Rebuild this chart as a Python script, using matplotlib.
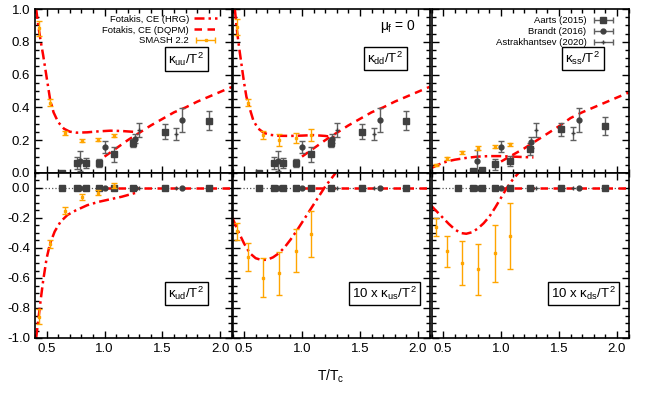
import numpy as np
import matplotlib
matplotlib.use("Agg")
from matplotlib import pyplot as plt
from matplotlib.lines import Line2D
from matplotlib.ticker import MultipleLocator, FormatStrFormatter
from matplotlib.container import ErrorbarContainer
from matplotlib.legend_handler import HandlerErrorbar

plt.rcParams['font.family'] = ['Liberation Sans', 'DejaVu Sans']
plt.rcParams['mathtext.fontset'] = 'custom'
plt.rcParams['mathtext.rm'] = 'Liberation Sans'
plt.rcParams['mathtext.it'] = 'Liberation Sans'
plt.rcParams['mathtext.bf'] = 'Liberation Sans:bold'
plt.rcParams['axes.unicode_minus'] = False

#%% data (T/Tc on x)
# SMASH 2.2
T_smash = [0.435, 0.53, 0.66, 0.805, 0.945, 1.08]
uu_smash = [0.882, 0.429, 0.246, 0.197, 0.203, 0.228]
uu_smash_err = [0.046, 0.02, 0.012, 0.01, 0.01, 0.01]
dd_smash = [0.89, 0.429, 0.232, 0.201, 0.215, 0.232]
dd_smash_err = [0.05, 0.02, 0.024, 0.034, 0.03, 0.035]
ss_smash = [0.049, 0.09, 0.126, 0.152, 0.16, 0.175]
ss_smash_err = [0.008, 0.008, 0.008, 0.01, 0.01, 0.01]
ud_smash = [-0.858, -0.373, -0.151, -0.058, -0.031, 0.016]
ud_smash_err = [0.05, 0.027, 0.022, 0.02, 0.017, 0.017]
us_smash = [-0.289, -0.458, -0.597, -0.57, -0.419, -0.304]   # x10
us_smash_err = [0.058, 0.093, 0.128, 0.146, 0.143, 0.153]
ds_smash = [-0.258, -0.422, -0.499, -0.543, -0.436, -0.318]  # x10
ds_smash_err = [0.06, 0.104, 0.148, 0.172, 0.189, 0.22]

# lattice
T_aarts = [0.63, 0.76, 0.84, 0.95, 1.08, 1.25, 1.52, 1.90]
light_aarts = [0.0, 0.063, 0.059, 0.061, 0.114, 0.185, 0.252, 0.319]
light_aarts_err = [0.0, 0.036, 0.03, 0.022, 0.046, 0.025, 0.046, 0.058]
ss_aarts = [np.nan, 0.012, 0.018, 0.053, 0.075, 0.146, 0.266, 0.289]
ss_aarts_err = [0.0, 0.008, 0.008, 0.035, 0.03, 0.035, 0.04, 0.055]
off_aarts = [0, 0, 0, 0, 0, 0, 0, 0]

T_brandt = [0.79, 1.0, 1.26, 1.67]
light_brandt = [0.073, 0.16, 0.21, 0.323]
light_brandt_err = [0.061, 0.036, 0.03, 0.076]
ss_brandt = [0.073, 0.16, 0.187, 0.323]
ss_brandt_err = [0.065, 0.035, 0.035, 0.075]
off_brandt = [0, 0, 0, 0]

T_astra = [1.30, 1.62]
light_astra = [0.262, 0.236]
light_astra_err = [0.04, 0.037]
ss_astra = [0.262, 0.242]
ss_astra_err = [0.045, 0.04]
off_astra = [0, 0]

# Fotakis CE (HRG)
T_hrg_uu = [0.41, 0.43, 0.45, 0.47, 0.49, 0.51, 0.53, 0.56, 0.60, 0.65, 0.70, 0.76, 0.85, 0.95, 1.05, 1.15, 1.27]
hrg_uu = [1.00, 0.89, 0.80, 0.72, 0.63, 0.54, 0.45, 0.37, 0.31, 0.27, 0.252, 0.246, 0.248, 0.254, 0.258, 0.256, 0.25]
T_hrg_dd = [0.42, 0.44, 0.46, 0.48, 0.50, 0.52, 0.55, 0.58, 0.62, 0.67, 0.72, 0.80, 0.90, 1.00, 1.10, 1.20, 1.28]
hrg_dd = [1.00, 0.86, 0.75, 0.65, 0.55, 0.465, 0.39, 0.32, 0.272, 0.245, 0.233, 0.227, 0.226, 0.228, 0.231, 0.226, 0.218]
T_hrg_ss = [0.40, 0.45, 0.50, 0.55, 0.60, 0.70, 0.80, 0.90, 1.00, 1.10, 1.20, 1.28]
hrg_ss = [0.03, 0.048, 0.063, 0.073, 0.081, 0.092, 0.100, 0.103, 0.103, 0.100, 0.097, 0.095]
T_hrg_ud = [0.41, 0.43, 0.45, 0.47, 0.50, 0.53, 0.57, 0.62, 0.68, 0.75, 0.85, 0.95, 1.05, 1.15, 1.27]
hrg_ud = [-1.0, -0.87, -0.74, -0.62, -0.47, -0.37, -0.29, -0.225, -0.18, -0.15, -0.115, -0.092, -0.075, -0.058, -0.032]
T_hrg_us = [0.40, 0.45, 0.50, 0.55, 0.60, 0.65, 0.70, 0.75, 0.80, 0.85, 0.90, 0.95, 1.00, 1.05, 1.10, 1.15, 1.20, 1.25, 1.29]
hrg_us = [-0.20, -0.29, -0.37, -0.435, -0.468, -0.48, -0.478, -0.462, -0.435, -0.395, -0.345, -0.29, -0.23, -0.17, -0.11, -0.05, 0.01, 0.06, 0.10]
T_hrg_ds = [0.40, 0.45, 0.50, 0.55, 0.60, 0.65, 0.70, 0.75, 0.80, 0.85, 0.90, 0.95, 1.00, 1.05, 1.10, 1.15, 1.18]
hrg_ds = [-0.12, -0.16, -0.20, -0.24, -0.275, -0.30, -0.305, -0.295, -0.27, -0.235, -0.19, -0.13, -0.065, 0.0, 0.055, 0.10, 0.12]

# Fotakis CE (DQPM)
T_dqpm = [1.00, 1.10, 1.20, 1.30, 1.40, 1.50, 1.60, 1.70, 1.80, 1.90, 2.00, 2.10]
dqpm_light = [0.10, 0.15, 0.20, 0.245, 0.29, 0.33, 0.37, 0.40, 0.435, 0.465, 0.495, 0.525]
dqpm_ss = [0.07, 0.11, 0.15, 0.195, 0.24, 0.285, 0.335, 0.37, 0.40, 0.43, 0.46, 0.49]
dqpm_off = [0, 0, 0, 0, 0, 0, 0, 0, 0, 0, 0, 0]

#%% styles
red = '#ff0000'
orange = '#ffa500'
gray = '#404040'
hrg_ls = (0, (4, 1.6, 1, 1.6))
dqpm_ls = (0, (3, 2.2))

W, H = 664., 399.
lefts = [35, 232.5, 431.5]
width = 197
rows = [(9, 164), (173, 165)]

fig = plt.figure(figsize=(W / 100, H / 100), dpi=100)
axes = []
for r, (top, h) in enumerate(rows):
    line = []
    for c, left in enumerate(lefts):
        ax = fig.add_axes([left / W, 1 - (top + h) / H, width / W, h / H])
        ax.set_xlim(0.4, 2.1)
        if r == 0:
            ax.set_ylim(0.0, 1.0)
        else:
            ax.set_ylim(-1.0, 0.1)
        ax.xaxis.set_major_locator(MultipleLocator(0.5))
        ax.xaxis.set_minor_locator(MultipleLocator(0.1))
        ax.yaxis.set_major_locator(MultipleLocator(0.2))
        ax.yaxis.set_minor_locator(MultipleLocator(0.05))
        ax.xaxis.set_major_formatter(FormatStrFormatter('%.1f'))
        ax.yaxis.set_major_formatter(FormatStrFormatter('%.1f'))
        ax.tick_params(which='both', direction='in', top=True, right=True,
                       labelsize=9.5, width=1)
        ax.tick_params(which='major', length=5)
        ax.tick_params(which='minor', length=3)
        if c > 0:
            ax.tick_params(labelleft=False)
        if r == 0:
            ax.tick_params(labelbottom=False)
        for s in ax.spines.values():
            s.set_linewidth(1.2)
        line.append(ax)
    axes.append(line)


def lattice(ax, ya, ea, yb, eb, yc, ec):
    kw = dict(color=gray, ecolor='#606060', linestyle='none', capsize=2, elinewidth=1,
              capthick=1, zorder=3)
    ax.errorbar(T_aarts, ya, yerr=ea, marker='s', ms=4, **kw)
    ax.errorbar(T_brandt, yb, yerr=eb, marker='o', ms=3.5, **kw)
    ax.errorbar(T_astra, yc, yerr=ec, marker='+', ms=3, **kw)


def smash(ax, y, e):
    ax.errorbar(T_smash, y, yerr=e, color=orange, marker='s', ms=2, linestyle='none',
                capsize=2, elinewidth=1, capthick=1, zorder=4)


def curves(ax, th, yh, yq):
    ax.plot(th, yh, color=red, lw=1.8, linestyle=hrg_ls, zorder=2)
    ax.plot(T_dqpm, yq, color=red, lw=1.8, linestyle=dqpm_ls, zorder=2)


box = dict(boxstyle='square,pad=0.22', fc='white', ec='black', lw=1)
bfs = 9.5

# top row
ax = axes[0][0]
curves(ax, T_hrg_uu, hrg_uu, dqpm_light)
lattice(ax, light_aarts, light_aarts_err, light_brandt, light_brandt_err, light_astra, light_astra_err)
smash(ax, uu_smash, uu_smash_err)
ax.text(0.77, 0.695, r'$\kappa_{uu}/T^2$', transform=ax.transAxes, ha='center', va='center',
        fontsize=bfs, bbox=box)

ax = axes[0][1]
curves(ax, T_hrg_dd, hrg_dd, dqpm_light)
lattice(ax, light_aarts, light_aarts_err, light_brandt, light_brandt_err, light_astra, light_astra_err)
smash(ax, dd_smash, dd_smash_err)
ax.text(0.777, 0.70, r'$\kappa_{dd}/T^2$', transform=ax.transAxes, ha='center', va='center',
        fontsize=bfs, bbox=box)
ax.text(0.93, 0.895, r'$\mu_f$ = 0', transform=ax.transAxes, ha='right', va='center', fontsize=10)

ax = axes[0][2]
curves(ax, T_hrg_ss, hrg_ss, dqpm_ss)
lattice(ax, ss_aarts, ss_aarts_err, ss_brandt, ss_brandt_err, ss_astra, ss_astra_err)
smash(ax, ss_smash, ss_smash_err)
ax.text(0.77, 0.70, r'$\kappa_{ss}/T^2$', transform=ax.transAxes, ha='center', va='center',
        fontsize=bfs, bbox=box)

# bottom row
offd = [(T_hrg_ud, hrg_ud, ud_smash, ud_smash_err, r'$\kappa_{ud}/T^2$'),
        (T_hrg_us, hrg_us, us_smash, us_smash_err, r'10 x $\kappa_{us}/T^2$'),
        (T_hrg_ds, hrg_ds, ds_smash, ds_smash_err, r'10 x $\kappa_{ds}/T^2$')]
for ax, (th, yh, ys, es, lab) in zip(axes[1], offd):
    ax.axhline(0, color='#555555', lw=0.9, linestyle=':', zorder=1)
    curves(ax, th, yh, dqpm_off)
    ax.plot(T_aarts, off_aarts, 's', color=gray, ms=4, zorder=3)
    ax.plot(T_brandt, off_brandt, 'o', color=gray, ms=3.5, zorder=3)
    ax.plot(T_astra, off_astra, '+', color=gray, ms=3, zorder=3)
    smash(ax, ys, es)
    ax.text(0.77, 0.27, lab, transform=ax.transAxes, ha='center', va='center',
            fontsize=bfs, bbox=box)

axes[1][1].set_xlabel(r'T/T$_\mathrm{c}$', fontsize=10, labelpad=9)

# legends (gnuplot style: text first, sample on the right)
hmap = {ErrorbarContainer: HandlerErrorbar(xerr_size=1.0)}
leg_kw = dict(loc='upper right', frameon=False, markerfirst=False, fontsize=6.8,
              handlelength=2.5, labelspacing=0.2, handletextpad=0.5, borderaxespad=0.2,
              handler_map=hmap)
lax = axes[0][0]
h1 = Line2D([], [], color=red, lw=1.8, linestyle=hrg_ls)
h2 = Line2D([], [], color=red, lw=1.8, linestyle=dqpm_ls)
h3 = lax.errorbar([np.nan], [np.nan], xerr=[1], color=orange, marker='s', ms=2,
                  linestyle='none', capsize=2, elinewidth=1)
lax.legend([h1, h2, h3], ['Fotakis, CE (HRG)', 'Fotakis, CE (DQPM)', 'SMASH 2.2'],
           bbox_to_anchor=(0.955, 1.0), **leg_kw)

rax = axes[0][2]
g = []
for m, ms in [('s', 4), ('o', 3.5), ('+', 3)]:
    g.append(rax.errorbar([np.nan], [np.nan], xerr=[1], color=gray, ecolor='#606060',
                          marker=m, ms=ms, linestyle='none', capsize=2, elinewidth=1))
rax.legend(g, ['Aarts (2015)', 'Brandt (2016)', 'Astrakhantsev (2020)'],
           bbox_to_anchor=(0.96, 0.99), **leg_kw)

fig.savefig('out.png', dpi=100)
